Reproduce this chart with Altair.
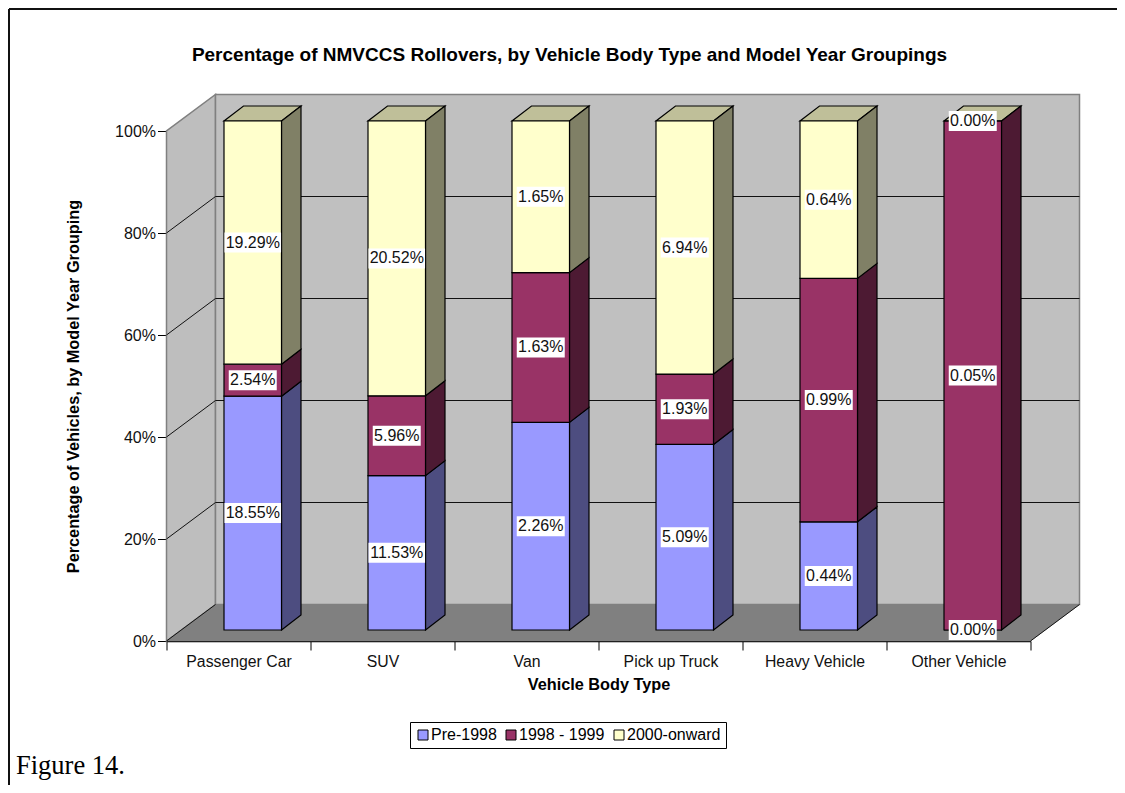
import altair as alt
import pandas as pd

categories = ["Passenger Car", "SUV", "Van", "Pick up Truck", "Heavy Vehicle", "Other Vehicle"]
series = ["Pre-1998", "1998 - 1999", "2000-onward"]
pre_1998 = [18.55, 11.53, 2.26, 5.09, 0.44, 0.00]
mid_1998 = [2.54, 5.96, 1.63, 1.93, 0.99, 0.05]
post_2000 = [19.29, 20.52, 1.65, 6.94, 0.64, 0.00]
face_colors = ["#9999FF", "#993366", "#FFFFCC"]
side_colors = ["#4D4D80", "#4D1A33", "#808066"]
top_color = "#BFBF99"
grid_values = [20, 40, 60, 80]

PX_X = 864 / 6          # pixels per category
PX_Y = 510 / 100        # pixels per percent
WALL_DX, WALL_DY = 49 / PX_X, 36.5 / PX_Y
BAR_OFF_X, BAR_OFF_Y = 14.25 / PX_X, -11 / PX_Y
BAR_HALF = 28.75 / PX_X
BAR_DX, BAR_DY = 19.5 / PX_X, 15 / PX_Y

YS = alt.Scale(domain=[0, 100], nice=False)
XS = alt.Scale(domain=[0, 6], nice=False, zero=False)
X = alt.X("x:Q", scale=XS, axis=None)
Y = alt.Y("y:Q", scale=YS, axis=None)
Y2 = alt.Y2("y2:Q")


def para(rows, pid, fill, xs, lows, highs):
    for a, b, c in zip(xs, lows, highs):
        rows.append({"pid": pid, "fill": fill, "x": a, "y": b, "y2": c})


# walls and floor
wall_rows = []
para(wall_rows, "left", "#BEBEBE", [0, WALL_DX], [0, WALL_DY], [100, 100 + WALL_DY])
para(wall_rows, "back", "#C0C0C0", [WALL_DX, 6 + WALL_DX], [WALL_DY, WALL_DY],
     [100 + WALL_DY, 100 + WALL_DY])
floor_rows = []
para(floor_rows, "floor", "#808080", [0, WALL_DX, 6, 6 + WALL_DX],
     [0, 0, 0, WALL_DY], [0, WALL_DY, WALL_DY, WALL_DY])

# grid and diagonals
grid_rows = []
for g in grid_values:
    for a, b in zip([0, WALL_DX, 6 + WALL_DX], [g, g + WALL_DY, g + WALL_DY]):
        grid_rows.append({"gid": f"g{g}", "x": a, "y": b})
for name, x0 in [("dl", 0), ("dr", 6)]:
    grid_rows.append({"gid": name, "x": x0, "y": 0})
    grid_rows.append({"gid": name, "x": x0 + WALL_DX, "y": WALL_DY})

# bars
front, sides, tops, labels = [], [], [], []
for i, cat in enumerate(categories):
    vals = [pre_1998[i], mid_1998[i], post_2000[i]]
    total = sum(vals)
    xc = i + 0.5 + BAR_OFF_X
    xl, xr = xc - BAR_HALF, xc + BAR_HALF
    run = 0.0
    for s, v in enumerate(vals):
        lo = run / total * 100
        run += v
        hi = run / total * 100
        lo_y, hi_y = lo * 0.998 - BAR_OFF_Y, hi * 0.998 - BAR_OFF_Y
        front.append({"series": series[s], "x": xl, "x2": xr, "y": lo_y, "y2": hi_y})
        if v > 0:
            para(sides, f"s{i}-{s}", side_colors[s], [xr, xr + BAR_DX],
                 [lo_y, lo_y + BAR_DY], [hi_y, hi_y + BAR_DY])
        text = f"{v:.2f}%"
        half = (len(text) * 8.6 + 5) / 2 / PX_X
        mid = (lo_y + hi_y) / 2
        labels.append({"label": text, "x": xc, "x1": xc - half, "x2": xc + half,
                       "y": mid, "b": mid - 10 / PX_Y, "t": mid + 10 / PX_Y})
    para(tops, f"t{i}", top_color, [xl, xl + BAR_DX, xr, xr + BAR_DX],
         [hi_y, hi_y, hi_y, hi_y + BAR_DY],
         [hi_y, hi_y + BAR_DY, hi_y + BAR_DY, hi_y + BAR_DY])

wall_df, floor_df, grid_df = map(pd.DataFrame, (wall_rows, floor_rows, grid_rows))
front_df, side_df, top_df, label_df = map(pd.DataFrame, (front, sides, tops, labels))


def area(df, stroke, width):
    return alt.Chart(df).mark_area(stroke=stroke, strokeWidth=width, opacity=1).encode(
        x=X, y=Y, y2=Y2, detail="pid:N", fill=alt.Fill("fill:N", scale=None, legend=None))


# real axes: band x (ticks on the band edges) and percent y
axis_layer = alt.Chart(pd.DataFrame({"cat": categories, "y": [0] * 6})).mark_point(opacity=0).encode(
    x=alt.X("cat:N", sort=categories, scale=alt.Scale(paddingInner=0, paddingOuter=0),
            axis=alt.Axis(tickBand="extent", labelAngle=0, tickSize=9, tickColor="#000000",
                          domainColor="#000000", domainWidth=1.5, labelFontSize=15.8,
                          labelColor="#111111", labelFont="Liberation Sans", labelPadding=4,
                          title="Vehicle Body Type", titleFont="Liberation Sans",
                          titleFontSize=16.3, titleFontWeight="bold", titleColor="#000000",
                          titlePadding=8)),
    y=alt.Y("y:Q", scale=YS,
            axis=alt.Axis(values=[0, 20, 40, 60, 80, 100], labelExpr="datum.value + '%'",
                          grid=False, tickSize=9, tickColor="#000000", domainColor="#000000",
                          tickWidth=1, domainWidth=1.5, labelFontSize=16, labelColor="#111111",
                          labelFont="Liberation Sans", labelPadding=2,
                          title="Percentage of Vehicles, by Model Year Grouping",
                          titleFont="Liberation Sans", titleFontSize=16.3, titleFontWeight="bold",
                          titleColor="#000000", titlePadding=33)))

walls = area(wall_df, "#808080", 1.5)
floor = area(floor_df, "#808080", 0.5)
grid = alt.Chart(grid_df).mark_line(color="#111111", strokeWidth=1).encode(x=X, y=Y, detail="gid:N")
tops_l = area(top_df, "#000000", 1.2)
sides_l = area(side_df, "#000000", 1.2)
fronts = alt.Chart(front_df).mark_rect(stroke="#000000", strokeWidth=1.2).encode(
    x=X, x2="x2:Q", y=Y, y2=Y2,
    fill=alt.Fill("series:N",
                  scale=alt.Scale(domain=series, range=face_colors),
                  legend=alt.Legend(title=None, orient="none", direction="horizontal",
                                    legendX=243.5, legendY=591, symbolType="square",
                                    symbolSize=100, symbolStrokeColor="#000000",
                                    symbolStrokeWidth=1, labelFont="Liberation Sans",
                                    labelFontSize=16, labelColor="#000000", labelLimit=120,
                                    columnPadding=6, labelOffset=0, strokeColor="#000000",
                                    fillColor="#FFFFFF", padding=5)))
boxes = alt.Chart(label_df).mark_rect(fill="#FFFFFF").encode(
    x=alt.X("x1:Q", scale=XS, axis=None), x2="x2:Q",
    y=alt.Y("b:Q", scale=YS, axis=None), y2="t:Q")
texts = alt.Chart(label_df).mark_text(font="Liberation Sans", fontSize=16, color="#111111").encode(
    x=X, y=Y, text="label:N")

title = alt.Chart(pd.DataFrame({"t": ["Percentage of NMVCCS Rollovers, by Vehicle Body Type and Model Year Groupings"]})).mark_text(
    font="Liberation Sans", fontSize=19, fontWeight="bold", color="#000000", align="center", baseline="middle"
).encode(x=alt.value(403), y=alt.value(-76), text="t:N")

figure = alt.Chart(pd.DataFrame({"t": ["Figure 14."]})).mark_text(
    font="Liberation Serif", fontSize=26.5, align="left", baseline="alphabetic", color="#000000"
).encode(x=alt.value(-150.5), y=alt.value(643), text="t:N")

frame = alt.Chart(pd.DataFrame({"a": [1]})).mark_rule(color="#111111", strokeWidth=2).encode(
    x=alt.value(-157.5), x2=alt.value(951), y=alt.value(-122), detail="a:N")
frame_l = alt.Chart(pd.DataFrame({"a": [1]})).mark_rule(color="#111111", strokeWidth=2).encode(
    x=alt.value(-157.5), y=alt.value(-122), y2=alt.value(654), detail="a:N")

chart = alt.layer(
    axis_layer, walls, floor, grid, tops_l, sides_l, fronts, boxes, texts, title, figure, frame, frame_l
).resolve_scale(x="independent", y="independent", fill="independent").properties(
    width=864, height=510,
    padding={"left": 158.5, "top": 123, "right": 86.5, "bottom": 144},
    autosize=alt.AutoSizeParams(type="none", contains="content"),
).configure_view(stroke=None).configure(background="#FFFFFF")

chart.save("out.html", embed_options={"renderer": "svg", "actions": False})
